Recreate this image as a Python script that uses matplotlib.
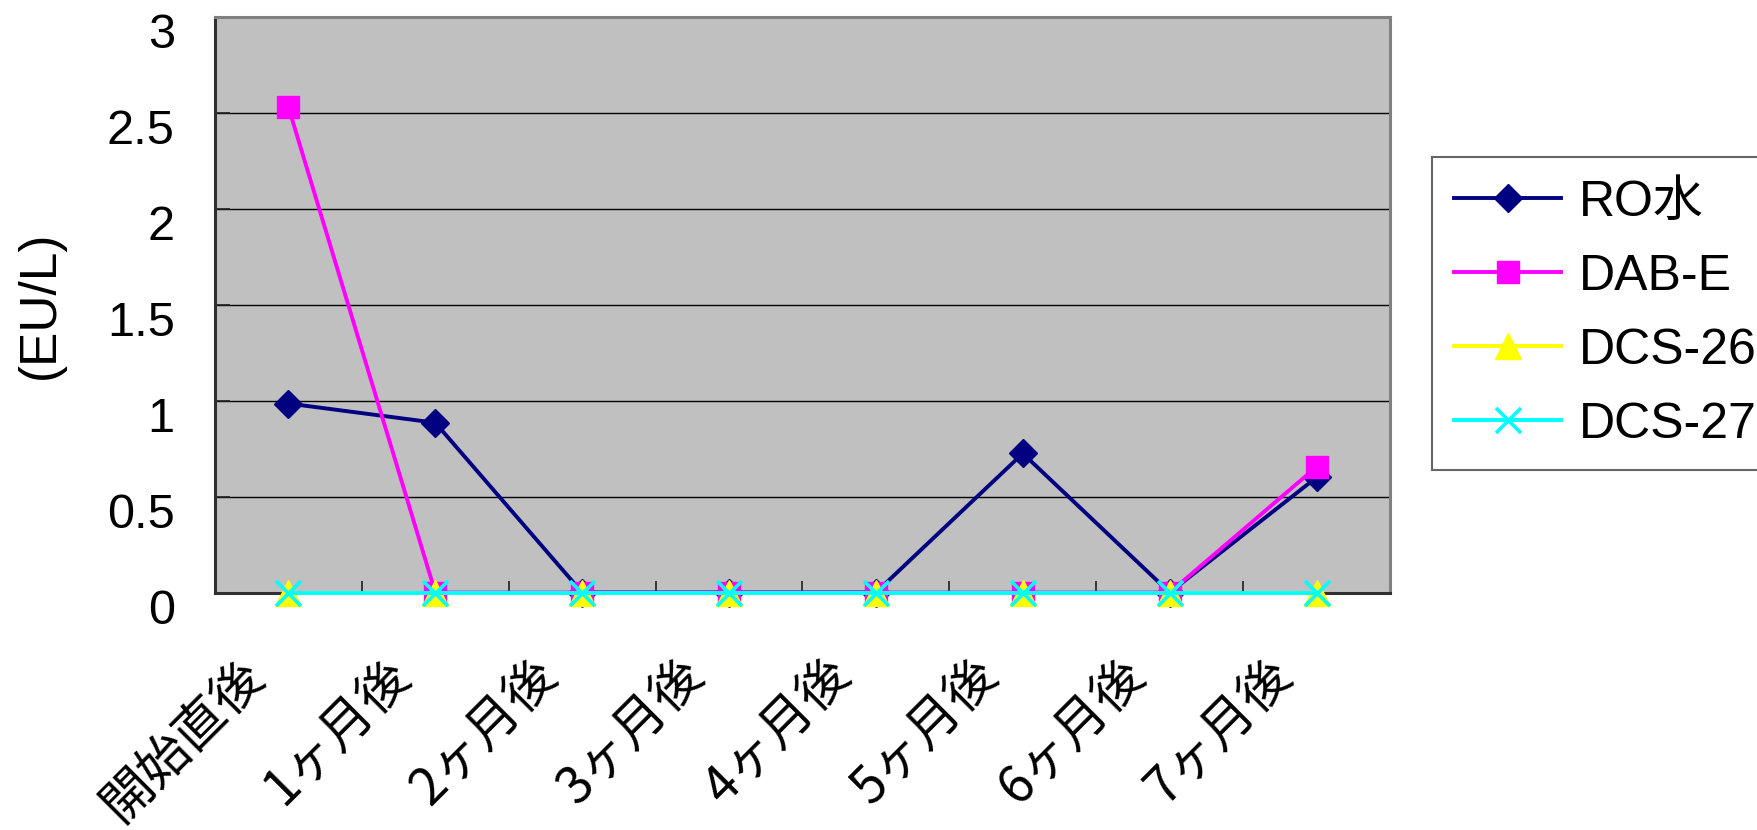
import matplotlib
matplotlib.use("Agg")
import matplotlib.pyplot as plt
import matplotlib.transforms as mtransforms
import numpy as np

plt.rcParams['font.family'] = ['Liberation Sans', 'Noto Sans CJK JP']

categories = ['開始直後', '1ヶ月後', '2ヶ月後', '3ヶ月後', '4ヶ月後', '5ヶ月後', '6ヶ月後', '7ヶ月後']
ro_water = [0.985, 0.885, 0.0, 0.0, 0.0, 0.725, 0.0, 0.60]
dab_e = [2.53, 0.0, 0.0, 0.0, 0.0, 0.0, 0.0, 0.655]
dcs_26 = [0.0, 0.0, 0.0, 0.0, 0.0, 0.0, 0.0, 0.0]
dcs_27 = [0.0, 0.0, 0.0, 0.0, 0.0, 0.0, 0.0, 0.0]
series_names = ['RO水', 'DAB-E', 'DCS-26', 'DCS-27']
y_ticks = [0, 0.5, 1, 1.5, 2, 2.5, 3]
y_tick_labels = ['0', '0.5', '1', '1.5', '2', '2.5', '3']

fig = plt.figure(figsize=(17.58, 8.30), dpi=100)
ax = fig.add_axes([215 / 1758, 1 - 592.5 / 830, 1175 / 1758, 575.5 / 830])
ax.set_facecolor('#C0C0C0')

x = np.arange(len(categories))
lw = 2.8
ax.plot(x, ro_water, color='#000080', lw=lw, marker='D', ms=14,
        mfc='#000080', mec='#000080', label=series_names[0], zorder=3, clip_on=False)
ax.plot(x, dab_e, color='#FF00FF', lw=lw, marker='s', ms=16.5,
        mfc='#FF00FF', mec='#FF00FF', label=series_names[1], zorder=4, clip_on=False)
ax.plot(x, dcs_26, color='#FFFF00', lw=lw, marker='^', ms=18.5,
        mfc='#FFFF00', mec='#FFFF00', label=series_names[2], zorder=5, clip_on=False)
ax.plot(x, dcs_27, color='#00FFFF', lw=lw, marker='x', ms=18,
        mew=2.6, mec='#00FFFF', label=series_names[3], zorder=6, clip_on=False)

ax.set_xlim(-0.5, len(categories) - 0.5)
ax.set_ylim(0, 3)

# horizontal gridlines
ax.set_yticks(y_ticks)
ax.set_yticklabels(y_tick_labels, fontsize=35)
ax.yaxis.grid(True, color='black', lw=1.0)
ax.set_axisbelow(True)
ax.tick_params(axis='y', direction='in', length=11, width=1.2, pad=29, color='#202020')

# category ticks between points, labels centred on points
ax.set_xticks(np.arange(len(categories) + 1) - 0.5)
ax.set_xticklabels([])
ax.set_xticks(x, minor=True)
ax.set_xticklabels(categories, minor=True, rotation=45, ha='right', va='top',
                   fontsize=37, family=['Noto Sans CJK JP'])
ax.tick_params(axis='x', which='major', direction='in', length=9, width=1.2, color='#202020')
ax.tick_params(axis='x', which='minor', length=0, pad=40)
shift = mtransforms.ScaledTranslation(-14 / 100, 0, fig.dpi_scale_trans)
for lab in ax.get_xticklabels(minor=True):
    lab.set_transform(lab.get_transform() + shift)

yshift = mtransforms.ScaledTranslation(0, -14 / 100, fig.dpi_scale_trans)
for lab in ax.get_yticklabels():
    lab.set_transform(lab.get_transform() + yshift)

for side in ['top', 'right']:
    ax.spines[side].set_color('#808080')
    ax.spines[side].set_linewidth(2.2)
for side in ['left', 'bottom']:
    ax.spines[side].set_color('#303030')
    ax.spines[side].set_linewidth(2.2)

ax.set_ylabel('(EU/L)', fontsize=37, va='center')
ax.yaxis.set_label_coords(-0.149, 0.5)

leg = ax.legend(loc='upper left', bbox_to_anchor=(1432 / 1758, 1 - 157 / 830),
                bbox_transform=fig.transFigure, fontsize=36, frameon=True,
                fancybox=False, numpoints=1, handlelength=2.14, handletextpad=0.35,
                borderpad=0.45, labelspacing=0.56, borderaxespad=0)
leg.get_frame().set_edgecolor('#404040')
leg.get_frame().set_linewidth(1.5)
leg.get_frame().set_facecolor('white')

fig.savefig('out.png', dpi=100, facecolor='white')
